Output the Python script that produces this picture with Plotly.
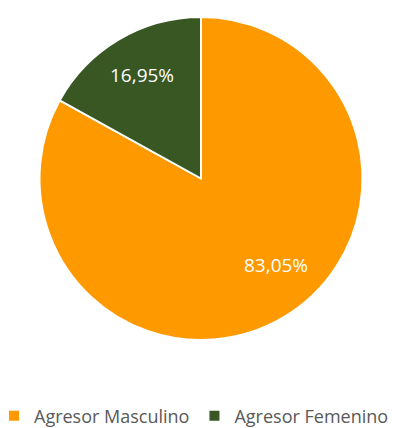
import plotly.graph_objects as go

labels = ["Agresor Masculino", "Agresor Femenino"]
values = [83.05, 16.95]
text_labels = ["83,05%", "16,95%"]
colors = ["#FF9900", "#385723"]

OFF = 8                      # default page body margin of the browser
W, H = 405 - OFF, 428 - OFF  # visible figure size
MB = 60                      # bottom margin for legend
PH = H - MB                  # plot-area height

# layout targets in window pixels
CX, CY, R = 201 - OFF, 178.5 - OFF, 161.5
label_px = [(276 - OFF, 265 - OFF), (142 - OFF, 75 - OFF)]
LEG_TEXT_X = 34 - OFF
LEG_Y = 416 - OFF


def px_to_paper(x, y):
    return x / W, (PH - y) / PH


fig = go.Figure(go.Pie(
    labels=labels,
    values=values,
    textinfo="none",
    marker=dict(colors=colors, line=dict(color="white", width=2)),
    sort=False,
    direction="clockwise",
    rotation=0,
    hoverinfo="label+percent",
    domain=dict(x=[(CX - R) / W, (CX + R) / W],
                y=[(PH - CY - R) / PH, (PH - CY + R) / PH]),
))

annotations = []
for t, (x, y) in zip(text_labels, label_px):
    ax, ay = px_to_paper(x, y)
    annotations.append(dict(
        text=t, x=ax, y=ay, xref="paper", yref="paper",
        showarrow=False, xanchor="center", yanchor="middle",
        font=dict(family="Open Sans", size=19, color="white"),
    ))

fig.update_layout(
    width=W,
    height=H,
    margin=dict(l=0, r=0, t=0, b=MB, autoexpand=False),
    paper_bgcolor="white",
    plot_bgcolor="white",
    showlegend=True,
    annotations=annotations,
    legend=dict(
        orientation="h",
        x=(LEG_TEXT_X - 40) / W, xanchor="left",
        y=(PH - LEG_Y) / PH, yanchor="middle",
        font=dict(family="Open Sans", size=18, color="#595959"),
        itemwidth=30,
        traceorder="normal",
    ),
)

fig.write_html("out.html")
